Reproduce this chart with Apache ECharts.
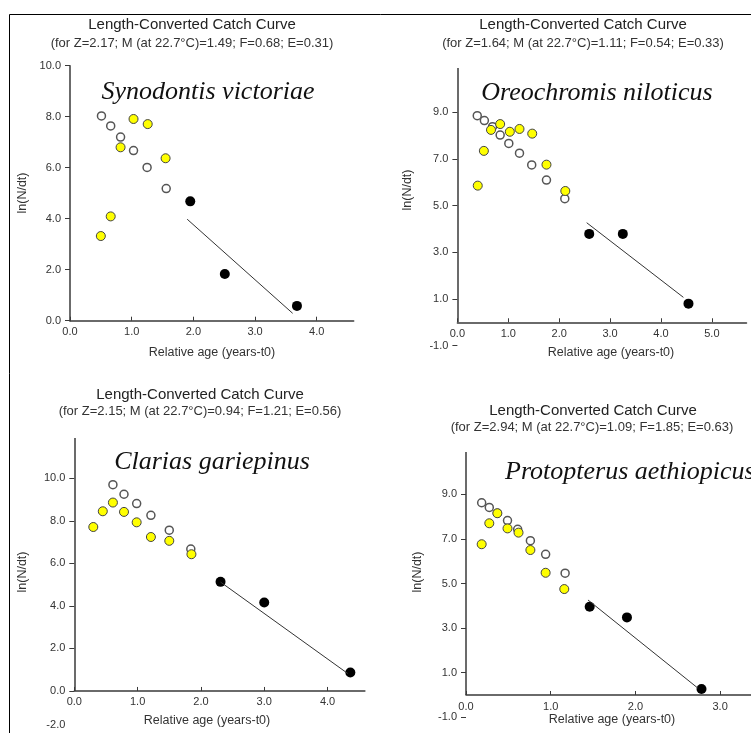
<!DOCTYPE html>
<html lang="en">
<head>
    <meta charset="UTF-8">
    <title>Length-Converted Catch Curves</title>
    <script src="https://cdn.jsdelivr.net/npm/echarts@6/dist/echarts.min.js"></script>
    <style>
        *{
            padding: 0;
            margin: 0;
        }
        html, body{
            width: 100%;
            height: 100%;
            background: #fff;
        }
        .echarts{
            width: 751px;
            height: 733px;
        }
    </style>
</head>
<body>
<div class="echarts"></div>
<script>
    // text of the four panels
    let species = ['Synodontis victoriae', 'Oreochromis niloticus', 'Clarias gariepinus', 'Protopterus aethiopicus'];
    let subtitles = [
        '(for Z=2.17; M (at 22.7°C)=1.49; F=0.68; E=0.31)',
        '(for Z=1.64; M (at 22.7°C)=1.11; F=0.54; E=0.33)',
        '(for Z=2.15; M (at 22.7°C)=0.94; F=1.21; E=0.56)',
        '(for Z=2.94; M (at 22.7°C)=1.09; F=1.85; E=0.63)'
    ];

    // axis ranges and tick labels
    let xMax = [4.6, 5.68, 4.59, 3.5];
    let yMin = [0, -1, -2, -1];
    let yMax = [10, 10.9, 11.9, 10.9];
    let xTicks = [[0, 1, 2, 3, 4], [0, 1, 2, 3, 4, 5], [0, 1, 2, 3, 4], [0, 1, 2, 3]];
    let yTicks = [[0, 2, 4, 6, 8, 10], [-1, 1, 3, 5, 7, 9], [-2, 0, 2, 4, 6, 8, 10], [-1, 1, 3, 5, 7, 9]];

    // Synodontis victoriae  [relative age, ln(N/dt)]
    let synOpen = [[0.51, 8.03], [0.66, 7.64], [0.82, 7.20], [1.03, 6.67], [1.25, 6.01], [1.56, 5.18]];
    let synYellow = [[0.50, 3.32], [0.66, 4.09], [0.82, 6.80], [1.03, 7.91], [1.26, 7.71], [1.55, 6.37]];
    let synBlack = [[1.95, 4.68], [2.51, 1.83], [3.68, 0.58]];
    let synLine = [[1.90, 3.98], [3.61, 0.29]];

    // Oreochromis niloticus
    let oreOpen = [[0.39, 8.86], [0.53, 8.65], [0.69, 8.39], [0.84, 8.03], [1.01, 7.67], [1.22, 7.25], [1.46, 6.75], [1.75, 6.10], [2.11, 5.30]];
    let oreYellow = [[0.40, 5.86], [0.52, 7.35], [0.66, 8.25], [0.84, 8.50], [1.03, 8.17], [1.22, 8.29], [1.47, 8.09], [1.75, 6.76], [2.12, 5.63]];
    let oreBlack = [[2.59, 3.79], [3.25, 3.79], [4.54, 0.80]];
    let oreLine = [[2.54, 4.27], [4.44, 1.07]];

    // Clarias gariepinus
    let claOpen = [[0.61, 9.70], [0.785, 9.25], [0.985, 8.81], [1.21, 8.26], [1.50, 7.56], [1.84, 6.67]];
    let claYellow = [[0.30, 7.71], [0.45, 8.45], [0.61, 8.86], [0.785, 8.42], [0.985, 7.93], [1.21, 7.24], [1.50, 7.06], [1.85, 6.43]];
    let claBlack = [[2.31, 5.13], [3.00, 4.16], [4.36, 0.87]];
    let claLine = [[2.31, 5.12], [4.32, 0.82]];

    // Protopterus aethiopicus
    let proOpen = [[0.185, 8.62], [0.275, 8.41], [0.37, 8.15], [0.49, 7.82], [0.61, 7.43], [0.76, 6.92], [0.94, 6.31], [1.17, 5.46]];
    let proYellow = [[0.185, 6.76], [0.275, 7.70], [0.37, 8.15], [0.49, 7.47], [0.62, 7.28], [0.76, 6.50], [0.94, 5.48], [1.16, 4.75]];
    let proBlack = [[1.46, 3.96], [1.90, 3.48], [2.78, 0.27]];
    let proLine = [[1.44, 4.26], [2.74, 0.30]];

    let openPts = [synOpen, oreOpen, claOpen, proOpen];
    let yellowPts = [synYellow, oreYellow, claYellow, proYellow];
    let blackPts = [synBlack, oreBlack, claBlack, proBlack];
    let fitLines = [synLine, oreLine, claLine, proLine];

    window.onload = function () {
        let main = document.querySelector('.echarts');
        let myCharts = echarts.init(main);

        let axisColor = '#3a3a3a';
        let labelFont = 'Liberation Sans, Arial, sans-serif';
        let fmt = function (v) { return v.toFixed(1); };
        // the lowest y label of the Clarias panel sits a little higher in the picture
        let fmtLow = function (v) { return v === -2 ? '{lo|' + v.toFixed(1) + '}' : v.toFixed(1); };

        // plot areas, pixel layout of the picture
        let layout = [
            {left: 70, top: 65.7, width: 283.7, height: 255},
            {left: 457.4, top: 68.1, width: 289.1, height: 277.5},
            {left: 74.3, top: 437.9, width: 290.6, height: 295.6},
            {left: 466, top: 451.9, width: 296.5, height: 265.4}
        ];
        // text positions for each panel
        let textPos = [
            {title: [192, 25], sub: [192, 43], sp: [208, 92], spAlign: 'center', xName: [212, 353], yName: [23, 193]},
            {title: [583, 25], sub: [583, 43], sp: [597, 93], spAlign: 'center', xName: [611, 353], yName: [408, 190]},
            {title: [200, 395], sub: [200, 411], sp: [212, 462], spAlign: 'center', xName: [207, 721], yName: [23, 572]},
            {title: [593, 411], sub: [592, 427], sp: [505, 472], spAlign: 'left', xName: [612, 720], yName: [418, 572]}
        ];

        let grid = [], xAxis = [], yAxis = [], series = [];
        let graphic = [
            {type: 'line', shape: {x1: 9.5, y1: 14.5, x2: 751, y2: 14.5}, style: {stroke: '#000', lineWidth: 1}},
            {type: 'line', shape: {x1: 9.5, y1: 14.5, x2: 9.5, y2: 733}, style: {stroke: '#000', lineWidth: 1}}
        ];

        for (let i = 0; i < 4; i++) {
            grid.push(Object.assign({outerBoundsMode: 'none', containLabel: false}, layout[i]));
            // x axis crosses the y axis at ln = 0
            let lift = layout[i].height * (0 - yMin[i]) / (yMax[i] - yMin[i]);
            xAxis.push({
                gridIndex: i,
                type: 'value',
                min: 0,
                max: xMax[i],
                offset: -lift,
                axisLine: {onZero: false, lineStyle: {color: axisColor, width: 1.5}},
                axisTick: {inside: true, length: 4, customValues: xTicks[i], lineStyle: {color: axisColor}},
                axisLabel: {customValues: xTicks[i], formatter: fmt, margin: 6, color: '#333', fontSize: 11, fontFamily: labelFont},
                splitLine: {show: false}
            });
            yAxis.push({
                gridIndex: i,
                type: 'value',
                min: yMin[i],
                max: yMax[i],
                axisLine: {show: yMin[i] >= 0, onZero: false, lineStyle: {color: axisColor, width: 1.5}},
                axisTick: {length: 5, customValues: yTicks[i], lineStyle: {color: axisColor}},
                axisLabel: {
                    customValues: yTicks[i], formatter: i === 2 ? fmtLow : fmt, margin: 9,
                    color: '#333', fontSize: 11, fontFamily: labelFont,
                    rich: {lo: {color: '#333', fontSize: 11, fontFamily: labelFont, padding: [0, 0, 18, 0]}}
                },
                splitLine: {show: false}
            });

            let lineSeries = {
                type: 'line',
                xAxisIndex: i,
                yAxisIndex: i,
                data: fitLines[i],
                symbol: 'none',
                clip: false,
                lineStyle: {color: '#333', width: 1}
            };
            if (yMin[i] < 0) {
                // y axis drawn only from the x axis upward
                lineSeries.markLine = {
                    silent: true,
                    symbol: ['none', 'none'],
                    label: {show: false},
                    lineStyle: {color: axisColor, width: 1.5, type: 'solid'},
                    data: [[{coord: [0, 0]}, {coord: [0, yMax[i]]}]]
                };
            }
            series.push(lineSeries);
            series.push({
                type: 'scatter', xAxisIndex: i, yAxisIndex: i, data: openPts[i],
                symbol: 'circle', symbolSize: 8,
                itemStyle: {color: '#fff', borderColor: '#555', borderWidth: 1.5, opacity: 1}
            });
            series.push({
                type: 'scatter', xAxisIndex: i, yAxisIndex: i, data: yellowPts[i],
                symbol: 'circle', symbolSize: 9,
                itemStyle: {color: '#ffff00', borderColor: '#444', borderWidth: 1, opacity: 1}
            });
            series.push({
                type: 'scatter', xAxisIndex: i, yAxisIndex: i, data: blackPts[i],
                symbol: 'circle', symbolSize: 10,
                itemStyle: {color: '#000', opacity: 1}
            });

            let p = textPos[i];
            graphic.push({type: 'text', x: p.title[0], y: p.title[1], style: {text: 'Length-Converted Catch Curve', font: '15px Liberation Sans', fill: '#222', align: 'center', verticalAlign: 'middle', textAlign: 'center', textVerticalAlign: 'middle'}});
            graphic.push({type: 'text', x: p.sub[0], y: p.sub[1], style: {text: subtitles[i], font: '13px Liberation Sans', fill: '#333', align: 'center', verticalAlign: 'middle', textAlign: 'center', textVerticalAlign: 'middle'}});
            graphic.push({type: 'text', x: p.sp[0], y: p.sp[1], style: {text: species[i], font: 'italic 26px Liberation Serif', fill: '#111', align: p.spAlign, verticalAlign: 'middle', textAlign: p.spAlign, textVerticalAlign: 'middle'}});
            graphic.push({type: 'text', x: p.xName[0], y: p.xName[1], style: {text: 'Relative age (years-t0)', font: '12.5px Liberation Sans', fill: '#333', align: 'center', verticalAlign: 'middle', textAlign: 'center', textVerticalAlign: 'middle'}});
            graphic.push({type: 'text', x: p.yName[0], y: p.yName[1], rotation: Math.PI / 2, style: {text: 'ln(N/dt)', font: '12.5px Liberation Sans', fill: '#333', align: 'center', verticalAlign: 'middle', textAlign: 'center', textVerticalAlign: 'middle'}});
        }

        let option = {
            backgroundColor: '#fff',
            animation: false,
            grid,
            xAxis,
            yAxis,
            series,
            graphic
        };
        myCharts.setOption(option);
    };
</script>
</body>
</html>
